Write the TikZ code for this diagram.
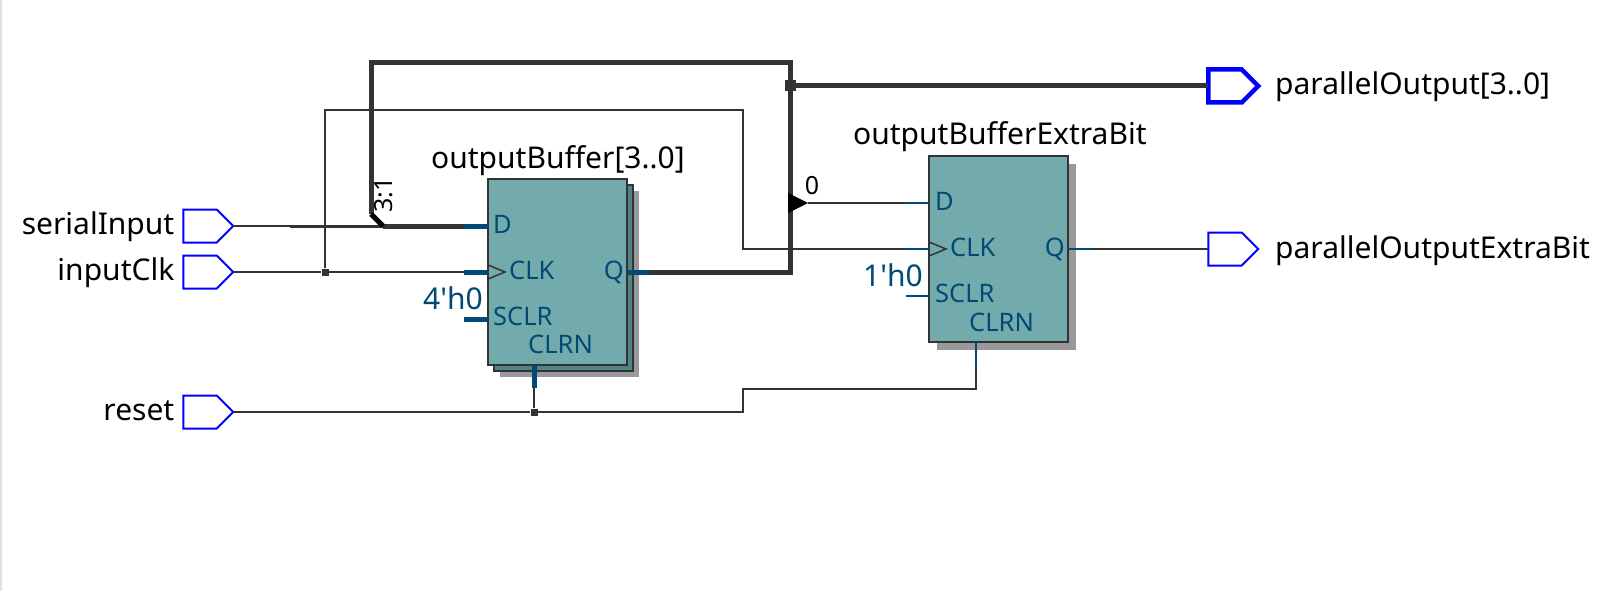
\documentclass[tikz,border=0pt]{standalone}
\usepackage{fontspec}
\setmainfont{Noto Sans}
\usetikzlibrary{shapes.symbols}
\definecolor{wirecol}{HTML}{333333}
\definecolor{pincol}{HTML}{004A75}
\definecolor{portcol}{HTML}{0000FF}
\definecolor{regcol}{HTML}{73ABAC}
\definecolor{backcol}{HTML}{4F8587}
\definecolor{shadecol}{HTML}{999999}
\newcommand{\bigfont}{\fontsize{30}{35}\selectfont}
\newcommand{\pinfont}{\fontsize{25.5}{30}\selectfont}
\newcommand{\smallfont}{\fontsize{25}{30}\selectfont}
\tikzset{
  ioport/.style={draw=portcol, line width=2pt, fill=white, signal, signal to=east, signal pointer angle=90,
    minimum width=50pt, minimum height=33pt, inner sep=0pt, outer sep=0pt},
  busport/.style={ioport, line width=4.5pt},
  reg/.style={draw=wirecol, line width=2pt, fill=regcol, minimum width=139pt, minimum height=186pt,
    inner sep=0pt, outer sep=0pt},
  regback/.style={reg, fill=backcol},
  regshade/.style={fill=shadecol, draw=none, minimum width=139pt, minimum height=186pt, inner sep=0pt},
  wire/.style={draw=wirecol, line width=2pt},
  bus/.style={draw=wirecol, line width=5pt},
  pinwire/.style={draw=pincol, line width=2pt},
  pinbus/.style={draw=pincol, line width=5pt},
  dot/.style={fill=wirecol, inner sep=0pt, minimum size=7pt},
  bigdot/.style={fill=wirecol, inner sep=0pt, minimum size=11pt},
  nametext/.style={font=\bigfont, inner sep=0pt, text=black},
  pintext/.style={font=\pinfont, inner sep=0pt, text=pincol},
  clkmark/.style={draw=wirecol, line width=1.5pt}
}
\begin{document}
\begin{tikzpicture}[x=1pt, y=-1pt]
    \useasboundingbox (0,0) rectangle (1612,591);
    \fill[white] (0,0) rectangle (1612,591);
    \fill[black!12] (0,0) rectangle (1.5,591);
    % input and output ports
    \node[ioport] (serialIn) at (200,226) {};
    \node[ioport] (clkIn) at (200,272) {};
    \node[ioport] (resetIn) at (200,412) {};
    \node[busport] (parOut) at (1225,86) {};
    \node[ioport] (bitOut) at (1225,249) {};
    \node[nametext, anchor=base east] (serialLbl) at (174.5,234) {serialInput};
    \node[nametext, anchor=base east] (clkLbl) at (174.5,280) {inputClk};
    \node[nametext, anchor=base east] (resetLbl) at (174.5,420) {reset};
    \node[nametext, anchor=base west] (parLbl) at (1275,95) {parallelOutput[3..0]};
    \node[nametext, anchor=base west] (bitLbl) at (1275,258) {parallelOutputExtraBit};
    % registers
    \node[regshade] (bufShade) at (569.5,284) {};
    \node[regback] (bufBack) at (563.5,277.5) {};
    \node[reg] (buf) at (557.5,272) {};
    \node[regshade] (bitShade) at (1006.5,257) {};
    \node[reg] (bit) at (998.5,249) {};
    \node[nametext, anchor=base west] (bufLbl) at (431,168) {outputBuffer[3..0]};
    \node[nametext, anchor=base west] (bitTitle) at (853,145) {outputBufferExtraBit};
    % pin ends
    \coordinate (bufD) at (464,226);
    \coordinate (bufC) at (464,272);
    \coordinate (bufS) at (464,319);
    \coordinate (bufQ) at (650,272);
    \coordinate (bufR) at (534,388);
    \coordinate (bitD) at (906,203);
    \coordinate (bitC) at (906,249);
    \coordinate (bitS) at (906,296);
    \coordinate (bitQ) at (1092,249);
    \coordinate (bitR) at (976,365);
    % junctions and bends
    \node[dot] (clkJ) at (325,272) {};
    \node[dot] (resetJ) at (534,412) {};
    \node[bigdot] (outJ) at (790,86) {};
    \coordinate (serialMid) at (290,226);
    \coordinate (clkUp) at (325,110);
    \coordinate (clkOver) at (743,110);
    \coordinate (clkDown) at (743,249);
    \coordinate (resetUp) at (743,412);
    \coordinate (resetOver) at (743,389);
    \coordinate (resetEnd) at (976,389);
    \coordinate (ripTop) at (371,214);
    \coordinate (ripEnd) at (383,226);
    \coordinate (busTopL) at (371,63);
    \coordinate (busTopR) at (790,63);
    \coordinate (busLow) at (790,272);
    \coordinate (tapTip) at (808,203);
    % thin wires
    \path[wire] (serialIn.east) -- (serialMid);
    \path[wire, line width=3pt] (serialMid) -- (ripEnd);
    \path[wire] (clkIn.east) -- (clkJ) -- (bufC);
    \path[wire] (clkJ) -- (clkUp) -- (clkOver) -- (clkDown) -- (bitC);
    \path[wire] (resetIn.east) -- (resetJ) -- (resetUp) -- (resetOver) -- (resetEnd) -- (bitR);
    \path[wire] (resetJ) -- (bufR);
    \path[wire] (tapTip) -- (bitD);
    \path[wire] (bitQ) -- (bitOut.west |- bitQ);
    % buses
    \path[bus, line join=miter] (ripTop) -- (busTopL) -- (busTopR) -- (busLow) -- (bufQ);
    \path[bus] (outJ) -- (parOut.west);
    \path[bus] (ripEnd) -- (bufD);
    \path[draw=black, line width=5pt] (ripTop) -- (ripEnd);
    \node[bigdot] at (outJ) {};
    \fill[black] (788,193) -- (tapTip) -- (788,213) -- cycle;
    \node[font=\smallfont, inner sep=0pt, anchor=base west, rotate=90] (ripLbl) at (392,213) {3:1};
    \node[font=\smallfont, inner sep=0pt, anchor=base] (tapLbl) at (812,194) {0};
    % pins
    \path[pinbus] (bufD) -- (buf.west |- bufD);
    \path[pinbus] (bufC) -- (buf.west |- bufC);
    \path[pinbus] (bufS) -- (buf.west |- bufS);
    \path[pinbus] (bufQ) -- (buf.east |- bufQ);
    \path[pinbus] (bufR) -- (buf.south -| bufR);
    \path[pinwire] (bitD) -- (bit.west |- bitD);
    \path[pinwire] (bitC) -- (bit.west |- bitC);
    \path[pinwire] (bitS) -- (bit.west |- bitS);
    \path[pinwire] (bitQ) -- (bit.east |- bitQ);
    \path[pinwire] (bitR) -- (bit.south -| bitR);
    % clock marks
    \path[clkmark] (488,265) -- (505,272) -- (488,279);
    \path[clkmark] (929,242) -- (946,249) -- (929,256);
    % pin names
    \node[pintext, anchor=base west] (bufDn) at (493,233) {D};
    \node[pintext, anchor=base west] (bufCn) at (509,279) {CLK};
    \node[pintext, anchor=base east] (bufQn) at (624,279) {Q};
    \node[pintext, anchor=base west] (bufSn) at (493,325) {SCLR};
    \node[pintext, anchor=base west] (bufRn) at (528,353) {CLRN};
    \node[pintext, anchor=base east, font=\bigfont] (bufV) at (483,309) {4\textquotesingle h0};
    \node[pintext, anchor=base west] (bitDn) at (935,210) {D};
    \node[pintext, anchor=base west] (bitCn) at (950,256) {CLK};
    \node[pintext, anchor=base east] (bitQn) at (1065,256) {Q};
    \node[pintext, anchor=base west] (bitSn) at (935,302) {SCLR};
    \node[pintext, anchor=base west] (bitRn) at (969,331) {CLRN};
    \node[pintext, anchor=base east, font=\bigfont] (bitV) at (923,286) {1\textquotesingle h0};
  \end{tikzpicture}
\end{document}
